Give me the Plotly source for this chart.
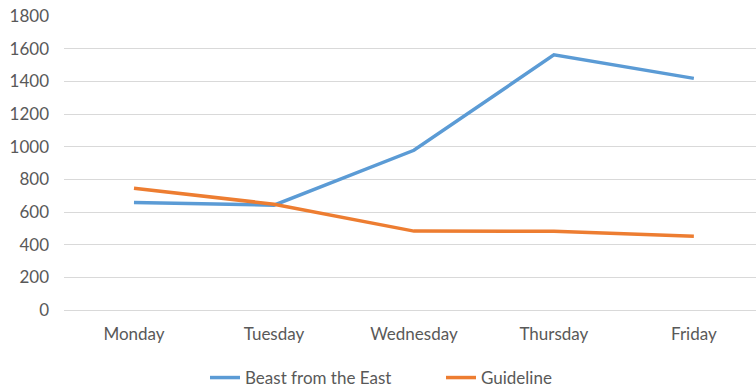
import plotly.graph_objects as go

days = ["Monday", "Tuesday", "Wednesday", "Thursday", "Friday"]
beast = [658, 642, 978, 1562, 1418]
guideline = [745, 648, 483, 482, 452]
yticks = [0, 200, 400, 600, 800, 1000, 1200, 1400, 1600, 1800]

FONT = "Lato"
GRAY = "#595959"

fig = go.Figure()
fig.add_trace(go.Scatter(x=days, y=beast, mode="lines", name="Beast from the East",
                         line=dict(color="#5b9bd5", width=3.5)))
fig.add_trace(go.Scatter(x=days, y=guideline, mode="lines", name="Guideline",
                         line=dict(color="#ed7d31", width=3.5)))

fig.update_layout(
    width=756, height=387,
    margin=dict(l=64, r=0, t=16, b=77),
    paper_bgcolor="white", plot_bgcolor="white",
    font=dict(family=FONT, size=17, color=GRAY),
    showlegend=True,
    legend=dict(orientation="h", xref="container", yref="container",
                x=205 / 756, xanchor="left", y=(387 - 378) / 387, yanchor="middle",
                entrywidth=191, entrywidthmode="pixels",
                font=dict(family=FONT, size=17, color=GRAY)),
)
fig.update_xaxes(range=[-0.5, 4.444], showgrid=False, showline=False, ticks="",
                 tickfont=dict(size=17, color=GRAY), ticklabelstandoff=12)
fig.update_yaxes(range=[0, 1800], tickvals=yticks, showgrid=True, gridcolor="#d9d9d9",
                 gridwidth=1, zeroline=True, zerolinecolor="#d9d9d9", zerolinewidth=1,
                 showline=False, ticks="", tickfont=dict(size=17, color=GRAY),
                 ticklabelstandoff=14)

fig.write_html("out.html")
